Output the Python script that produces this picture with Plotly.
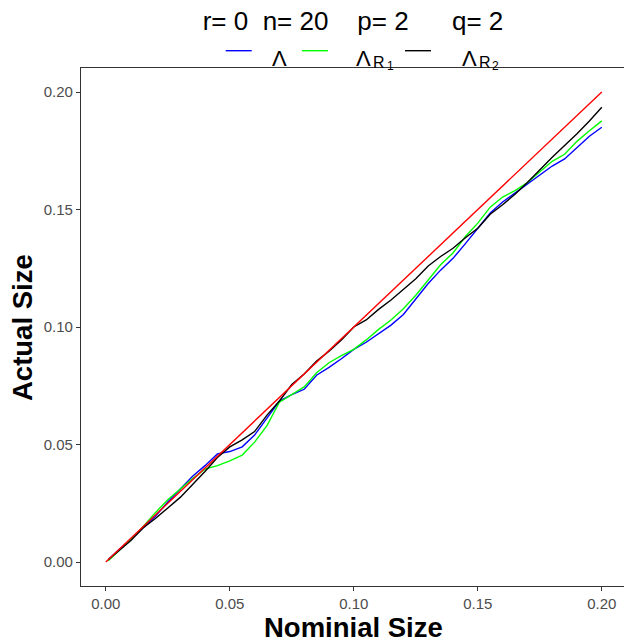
import plotly.graph_objects as go

# ---------------- data ----------------
nominal = [0.001, 0.005, 0.010, 0.015, 0.020, 0.025, 0.030, 0.035, 0.040, 0.045,
           0.050, 0.055, 0.060, 0.065, 0.070, 0.075, 0.080, 0.085, 0.090, 0.095,
           0.100, 0.105, 0.110, 0.115, 0.120, 0.125, 0.130, 0.135, 0.140, 0.145,
           0.150, 0.155, 0.160, 0.165, 0.170, 0.175, 0.180, 0.185, 0.190, 0.195,
           0.200]

lam = [0.0010, 0.0050, 0.0095, 0.0145, 0.0195, 0.0255, 0.0310, 0.0365, 0.0410, 0.0460,
       0.0470, 0.0490, 0.0540, 0.0615, 0.0685, 0.0712, 0.0735, 0.0795, 0.0828, 0.0865,
       0.0905, 0.0935, 0.0970, 0.1008, 0.1053, 0.1118, 0.1185, 0.1242, 0.1292, 0.1355,
       0.1422, 0.1485, 0.1532, 0.1570, 0.1610, 0.1645, 0.1685, 0.1715, 0.1765, 0.1812,
       0.1850]

lam_r1 = [0.0005, 0.0045, 0.0095, 0.0150, 0.0210, 0.0265, 0.0310, 0.0355, 0.0395, 0.0410,
          0.0430, 0.0455, 0.0510, 0.0580, 0.0680, 0.0712, 0.0745, 0.0805, 0.0848, 0.0878,
          0.0905, 0.0945, 0.0990, 0.1030, 0.1078, 0.1135, 0.1198, 0.1265, 0.1315, 0.1385,
          0.1442, 0.1510, 0.1553, 0.1580, 0.1615, 0.1660, 0.1705, 0.1735, 0.1790, 0.1835,
          0.1877]

lam_r2 = [0.0010, 0.0045, 0.0090, 0.0145, 0.0185, 0.0230, 0.0275, 0.0330, 0.0385, 0.0445,
          0.0490, 0.0520, 0.0555, 0.0625, 0.0685, 0.0755, 0.0800, 0.0855, 0.0897, 0.0945,
          0.1000, 0.1030, 0.1075, 0.1115, 0.1160, 0.1205, 0.1260, 0.1300, 0.1335, 0.1380,
          0.1420, 0.1480, 0.1520, 0.1565, 0.1615, 0.1670, 0.1722, 0.1772, 0.1822, 0.1877,
          0.1935]

ref_x = [0.0, 0.2]
ref_y = [0.0, 0.2]

tick_vals = [0.00, 0.05, 0.10, 0.15, 0.20]
tick_text = ["0.00", "0.05", "0.10", "0.15", "0.20"]

series_names = ["Λ", "Λ_R1", "Λ_R2"]
series_colors = ["#0000FF", "#00FF00", "#000000"]

# ---------------- layout geometry ----------------
W, H = 624, 642
L, R, T, B = 81, 0, 68, 56
PW, PH = W - L - R, H - T - B
X_PER_UNIT = 2480.0
Y_PER_UNIT = 2350.0
x_lo = -0.01
x_hi = x_lo + PW / X_PER_UNIT
y_lo = (562 - (H - B)) / Y_PER_UNIT
y_hi = (562 - T) / Y_PER_UNIT


def px_x(px):
    return (px - L) / PW


def px_y(py):
    return (H - B - py) / PH


FONT = "Liberation Sans, Arial, Helvetica, sans-serif"

fig = go.Figure()
for ys, name, col in zip([lam, lam_r1, lam_r2], series_names, series_colors):
    fig.add_trace(go.Scatter(x=nominal, y=ys, mode="lines", name=name,
                             line=dict(color=col, width=1.4), showlegend=False))
fig.add_trace(go.Scatter(x=ref_x, y=ref_y, mode="lines", name="y = x",
                         line=dict(color="#FF0000", width=1.4), showlegend=False))

# ---------------- manual legend (ggplot style) ----------------
shapes = []
annotations = []
legend_lines = [(225.7, 251.7), (302, 328), (405, 431)]
for (x0, x1), col in zip(legend_lines, series_colors):
    shapes.append(dict(type="line", xref="paper", yref="paper",
                       x0=px_x(x0), x1=px_x(x1), y0=px_y(50.7), y1=px_y(50.7),
                       line=dict(color=col, width=1.4)))


def ann(text, px, py, size, color="#000000", angle=0, xanchor="center"):
    annotations.append(dict(text=text, x=px_x(px), y=px_y(py), xref="paper", yref="paper",
                            showarrow=False, xanchor=xanchor, yanchor="middle",
                            textangle=angle, font=dict(family=FONT, size=size, color=color)))


ann("Λ", 279, 58.7, 22)
ann("Λ", 363, 58.7, 22)
ann("R", 379, 63.0, 16)
ann("1", 390.5, 66.0, 12)
ann("Λ", 469, 58.7, 22)
ann("R", 485, 63.0, 16)
ann("2", 495, 66.0, 12)

# axis titles
ann("<b>Nominial Size</b>", 353.5, 627, 27.5)
ann("<b>Actual Size</b>", 22, 328, 27.5, angle=-90)

NB = "\u00a0"
title_text = ("r=" + NB + "0" + NB * 2 + "n=" + NB + "20" + NB * 4 + "p=" + NB + "2"
              + NB * 6 + "q=" + NB + "2")

fig.update_layout(
    width=W, height=H,
    margin=dict(l=L, r=R, t=T, b=B, pad=0),
    paper_bgcolor="white", plot_bgcolor="white",
    font=dict(family=FONT),
    title=dict(text=title_text, x=px_x(353), xref="paper", xanchor="center",
               y=(H - 21) / H, yref="container", yanchor="middle",
               font=dict(family=FONT, size=26, color="#000000")),
    shapes=shapes, annotations=annotations,
    showlegend=False,
)
axis_common = dict(showgrid=False, zeroline=False, showline=True, linecolor="#333333",
                   linewidth=1.2, ticks="outside", ticklen=4, tickwidth=1.1,
                   tickcolor="#333333", tickvals=tick_vals, ticktext=tick_text,
                   tickfont=dict(family=FONT, size=15, color="#4D4D4D"))
fig.update_xaxes(range=[x_lo, x_hi], mirror=True, **axis_common)
fig.update_yaxes(range=[y_lo, y_hi], mirror=False, **axis_common)

fig.write_html("out.html")
